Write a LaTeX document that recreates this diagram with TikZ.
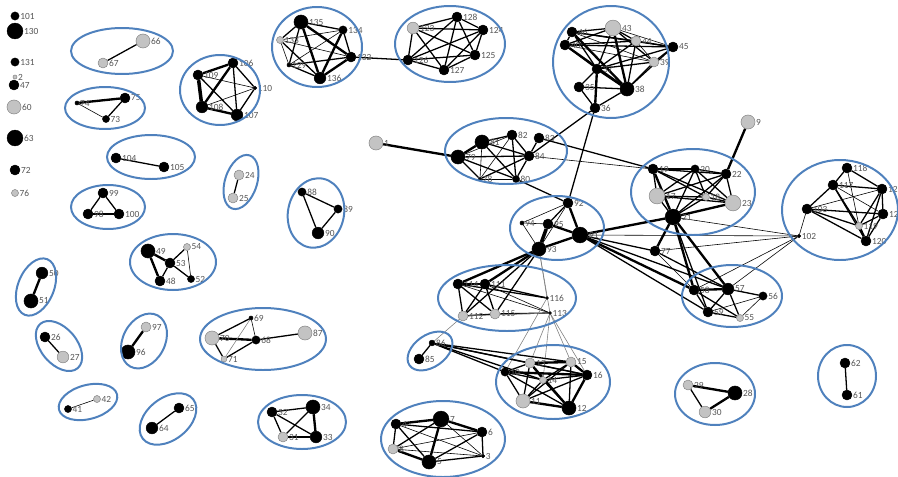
\documentclass[tikz,border=0pt]{standalone}
\usepackage{fontspec}
\setmainfont{Carlito}
\usepackage{tikz}
\usetikzlibrary{backgrounds}
\definecolor{grpblue}{RGB}{79,129,189}
\definecolor{ndgray}{RGB}{195,195,195}
\definecolor{lblgray}{RGB}{85,85,85}

\tikzset{
  vtx/.style={circle, inner sep=0pt, line width=0.4pt},
  lbl/.style={font=\fontsize{8}{9}\selectfont, text=lblgray, inner sep=0.6pt},
  grp/.style={draw=grpblue, line width=1.7pt},
  thn/.style={line width=0.5pt},
  med/.style={line width=1.1pt},
  thk/.style={line width=2pt},
  hvy/.style={line width=3pt},
  faint/.style={line width=0.5pt, gray}
}

\begin{document}
\begin{tikzpicture}[x=0.03cm, y=-0.03cm, line cap=round]
\useasboundingbox (0,0) rectangle (898,476);

\def\blk#1#2#3#4{%
  \node[vtx, fill=black, draw=black, minimum size=#4pt, label={[lbl]right:#1}] (n#1) at (#2,#3) {};
}
\def\gry#1#2#3#4{%
  \node[vtx, fill=ndgray, draw=gray, minimum size=#4pt, label={[lbl]right:#1}] (n#1) at (#2,#3) {};
}

% isolated vertices
\blk{101}{15}{16}{7}
\blk{130}{15}{31}{13.5}
\blk{131}{15}{62}{7}
\gry{2}{15}{77}{3.5}
\blk{47}{14}{85}{8.5}
\gry{60}{14}{107}{12}
\blk{63}{15}{138}{13.5}
\blk{72}{15}{170}{8.5}
\gry{76}{15}{193}{6}

% small components, left part
\gry{66}{143}{41}{12}
\gry{67}{103}{63}{8.5}
\blk{74}{77}{103}{3.5}
\blk{75}{125}{98}{8.5}
\blk{73}{106}{119}{6}
\blk{104}{116}{158}{8.5}
\blk{105}{164}{167}{8.5}
\blk{99}{103}{193}{8.5}
\blk{98}{88}{214}{8.5}
\blk{100}{119}{214}{8.5}
\blk{49}{148}{251}{12}
\blk{53}{170}{263}{8.5}
\gry{54}{187}{247}{6}
\blk{48}{160}{281}{8.5}
\blk{52}{191}{279}{6}
\blk{50}{42}{273}{10}
\blk{51}{31}{301}{12}
\blk{26}{45}{337}{8.5}
\gry{27}{63}{357}{10}
\gry{97}{146}{327}{8.5}
\blk{96}{128}{352}{12}
\blk{41}{68}{409}{6}
\gry{42}{97}{399}{6}
\blk{65}{179}{408}{8.5}
\blk{64}{152}{428}{10}
\gry{24}{239}{175}{8.5}
\gry{25}{233}{198}{8.5}
\blk{88}{302}{192}{7}
\blk{89}{338}{209}{7}
\blk{90}{318}{233}{10}
\blk{69}{251}{318}{3.5}
\gry{70}{212}{338}{12}
\blk{68}{256}{340}{7}
\gry{87}{305}{333}{12}
\gry{71}{224}{359}{5}
\blk{32}{272}{412}{8.5}
\blk{34}{313}{407}{12}
\gry{31}{283}{437}{8.5}
\blk{33}{316}{437}{10}

% top cliques
\blk{106}{233}{63}{8.5}
\blk{109}{198}{75}{8.5}
\blk{110}{255}{88}{3}
\blk{108}{202}{107}{10}
\blk{107}{237}{115}{10}
\blk{135}{301}{22}{12}
\blk{134}{343}{30}{7}
\blk{132}{351}{57}{8.5}
\gry{133}{280}{40}{6}
\blk{129}{289}{65}{3.5}
\blk{136}{320}{78}{10}
\blk{128}{457}{17}{8.5}
\gry{123}{413}{28}{10}
\blk{124}{483}{30}{8.5}
\blk{125}{475}{55}{8.5}
\blk{126}{408}{60}{8.5}
\blk{127}{444}{70}{8.5}

% giant component
\gry{1}{376}{143}{12}
\blk{81}{482}{142}{12}
\blk{82}{512}{135}{8.5}
\blk{83}{539}{138}{8.5}
\blk{79}{458}{157}{12}
\blk{84}{529}{156}{8.5}
\blk{78}{480}{179}{3}
\blk{80}{516}{179}{6}
\blk{46}{572}{32}{8.5}
\gry{43}{613}{28}{13.5}
\gry{44}{636}{41}{8.5}
\blk{45}{673}{47}{8.5}
\blk{40}{565}{45}{8.5}
\gry{39}{654}{62}{8.5}
\blk{37}{597}{69}{8.5}
\blk{35}{579}{87}{8.5}
\blk{38}{627}{89}{12}
\blk{36}{595}{108}{8.5}
\blk{19}{653}{169}{8.5}
\blk{20}{695}{169}{7}
\blk{22}{726}{174}{8.5}
\gry{17}{657}{196}{13.5}
\gry{18}{706}{197}{6}
\gry{23}{733}{203}{13.5}
\blk{21}{673}{217}{13.5}
\gry{9}{748}{122}{12}
\blk{118}{847}{168}{8.5}
\blk{117}{833}{185}{8.5}
\blk{121}{882}{189}{8.5}
\blk{103}{807}{209}{8.5}
\blk{122}{883}{214}{8.5}
\gry{119}{859}{226}{6}
\blk{120}{866}{241}{8.5}
\blk{102}{799}{236}{3}
\blk{92}{568}{203}{8.5}
\blk{94}{522}{223}{3.5}
\blk{95}{548}{224}{8.5}
\blk{91}{580}{235}{13.5}
\blk{93}{539}{249}{12}
\blk{77}{655}{251}{8.5}
\blk{58}{694}{290}{8.5}
\blk{57}{728}{289}{10}
\blk{56}{763}{296}{7}
\blk{59}{708}{312}{8.5}
\gry{55}{740}{318}{6}
\blk{114}{458}{284}{8.5}
\blk{111}{485}{284}{8.5}
\blk{116}{547}{298}{2.5}
\gry{112}{463}{316}{8.5}
\gry{115}{495}{314}{8.5}
\blk{113}{550}{313}{2.5}
\blk{86}{432}{343}{5}
\blk{85}{419}{359}{8.5}
\gry{13}{530}{363}{8.5}
\gry{15}{571}{362}{8.5}
\blk{16}{587}{375}{8.5}
\blk{10}{505}{372}{7}
\gry{14}{543}{380}{6}
\gry{11}{523}{401}{12}
\blk{12}{569}{408}{12}

% lower right and bottom
\gry{29}{688}{385}{8.5}
\blk{28}{735}{393}{12}
\gry{30}{705}{412}{10}
\blk{62}{845}{363}{8.5}
\blk{61}{847}{395}{8.5}
\blk{4}{396}{424}{8.5}
\blk{7}{441}{419}{13.5}
\blk{6}{482}{432}{8.5}
\gry{8}{393}{449}{8.5}
\blk{5}{429}{462}{12}
\blk{3}{483}{456}{3}

\begin{scope}[on background layer]
% edges
\foreach \a/\b in {66/67, 75/73, 104/105, 99/98, 99/100, 98/100, 53/48, 53/54, 53/52,
  26/27, 65/64, 24/25, 88/89, 88/90, 89/90, 70/71, 71/68, 68/87, 70/69,
  32/34, 32/31, 32/33, 34/31, 31/33, 29/30, 62/61, 86/85}
  \draw[med] (n\a) -- (n\b);
\foreach \a/\b in {74/75, 49/53, 49/48, 50/51, 97/96, 70/68, 34/33, 29/28, 28/30}
  \draw[thk] (n\a) -- (n\b);
\foreach \a/\b in {74/73, 54/52, 41/42, 69/68}
  \draw[thn] (n\a) -- (n\b);
\draw[faint] (n69) -- (n71);

% 106 -- 110
\draw[hvy] (n109) -- (n108);
\foreach \a/\b in {109/106, 108/106, 108/107}
  \draw[thk] (n\a) -- (n\b);
\foreach \a/\b in {109/107, 106/110, 107/110, 106/107}
  \draw[med] (n\a) -- (n\b);
\foreach \a/\b in {109/110, 108/110}
  \draw[thn] (n\a) -- (n\b);

% 129 -- 136
\foreach \a/\b in {135/136, 135/132, 134/136, 132/136}
  \draw[thk] (n\a) -- (n\b);
\foreach \a/\b in {135/134, 135/133, 135/129, 134/132, 132/129, 133/136, 129/136, 132/126}
  \draw[med] (n\a) -- (n\b);
\foreach \a/\b in {134/133, 134/129, 132/133, 133/129}
  \draw[thn] (n\a) -- (n\b);

% 123 -- 128
\foreach \a/\b in {128/123, 128/124, 128/125, 128/126, 128/127, 123/124, 123/126, 123/127,
  124/125, 124/126, 124/127, 125/126, 125/127, 126/127, 123/125}
  \draw[med] (n\a) -- (n\b);

% 78 -- 84
\foreach \a/\b in {1/79, 79/81}
  \draw[thk] (n\a) -- (n\b);
\foreach \a/\b in {79/84, 79/78, 79/80, 81/82, 81/84, 81/80, 82/84, 82/80, 83/84, 84/80, 84/78,
  84/36, 80/92, 83/19, 36/92}
  \draw[med] (n\a) -- (n\b);
\foreach \a/\b in {79/82, 81/78, 82/78, 78/80, 84/19}
  \draw[thn] (n\a) -- (n\b);

% 35 -- 46
\foreach \a/\b in {37/38, 43/38, 40/38, 46/38, 37/36}
  \draw[thk] (n\a) -- (n\b);
\foreach \a/\b in {46/43, 46/44, 46/45, 46/40, 46/37, 40/43, 40/44, 40/45, 40/37,
  43/44, 43/37, 43/39, 44/45, 44/37, 44/38, 45/39, 45/37, 45/38, 39/38, 39/37,
  37/35, 35/38, 35/36, 38/36}
  \draw[med] (n\a) -- (n\b);
\foreach \a/\b in {46/39, 40/39, 43/45, 44/39}
  \draw[thn] (n\a) -- (n\b);

% 17 -- 23
\foreach \a/\b in {19/20, 19/21, 21/23, 9/22, 91/21, 21/77, 21/58, 21/57}
  \draw[thk] (n\a) -- (n\b);
\foreach \a/\b in {20/22, 19/22, 19/17, 19/18, 19/23, 20/17, 20/21, 20/18, 22/17, 22/21,
  22/18, 22/23, 17/18, 17/21, 18/21, 18/23, 17/23, 20/23}
  \draw[med] (n\a) -- (n\b);

% 103 -- 122
\draw[thk] (n119) -- (n120);
\foreach \a/\b in {118/117, 118/121, 117/121, 117/103, 103/122, 103/119, 103/120, 117/119,
  117/120, 121/122, 121/119, 121/120, 122/119, 122/120}
  \draw[med] (n\a) -- (n\b);
\foreach \a/\b in {103/121, 117/122, 118/119, 102/103, 102/21, 102/91, 102/77, 102/57, 102/58}
  \draw[thn] (n\a) -- (n\b);

% 91 -- 95
\draw[hvy] (n95) -- (n93);
\foreach \a/\b in {92/91, 95/91, 93/91, 91/58, 93/114, 93/111}
  \draw[thk] (n\a) -- (n\b);
\foreach \a/\b in {92/95, 91/77, 91/57, 91/59, 93/112, 93/115}
  \draw[med] (n\a) -- (n\b);
\foreach \a/\b in {92/94, 94/95, 94/93, 92/93, 77/58}
  \draw[thn] (n\a) -- (n\b);

% 55 -- 59
\draw[thk] (n58) -- (n57);
\foreach \a/\b in {58/59, 58/55, 57/56, 57/59, 57/55, 59/55, 77/57, 21/59}
  \draw[med] (n\a) -- (n\b);
\foreach \a/\b in {56/59, 56/55}
  \draw[thn] (n\a) -- (n\b);

% 111 -- 116
\draw[thk] (n114) -- (n111);
\foreach \a/\b in {114/112, 114/115, 114/116, 111/112, 111/115, 111/116, 112/115, 115/113}
  \draw[med] (n\a) -- (n\b);
\foreach \a/\b in {114/113, 111/113}
  \draw[thn] (n\a) -- (n\b);
\foreach \a/\b in {93/116, 93/113, 112/113, 112/86, 113/13, 113/14, 113/15, 113/16, 116/10}
  \draw[faint] (n\a) -- (n\b);

% 10 -- 16
\foreach \a/\b in {13/15, 10/16, 16/12, 11/12, 15/16, 13/12}
  \draw[thk] (n\a) -- (n\b);
\foreach \a/\b in {10/13, 10/11, 10/12, 10/14, 13/14, 13/11, 13/16, 15/12, 15/14, 15/11,
  14/11, 14/12, 14/16, 11/16, 86/13, 86/10, 86/14, 86/15, 86/16}
  \draw[med] (n\a) -- (n\b);

% 2 -- 8
\foreach \a/\b in {4/7, 7/6, 7/5, 8/5}
  \draw[thk] (n\a) -- (n\b);
\foreach \a/\b in {4/6, 4/8, 4/5, 7/8, 6/5, 6/3, 5/3}
  \draw[med] (n\a) -- (n\b);
\foreach \a/\b in {4/3, 7/3, 6/8, 8/3}
  \draw[thn] (n\a) -- (n\b);
\end{scope}

% groups
\draw[grp] (122,51) ellipse [x radius=51, y radius=23];
\draw[grp] (105,108) ellipse [x radius=40, y radius=21];
\draw[grp] (151,157) ellipse [x radius=44, y radius=22];
\draw[grp] (108,207) ellipse [x radius=37, y radius=22];
\draw[grp] (173,262) ellipse [x radius=43, y radius=28];
\draw[grp, shift={(36,287)}, rotate=68] (0,0) ellipse [x radius=30, y radius=18];
\draw[grp, shift={(59,346)}, rotate=-50] (0,0) ellipse [x radius=29, y radius=18];
\draw[grp, shift={(144,341)}, rotate=62] (0,0) ellipse [x radius=29, y radius=21];
\draw[grp, shift={(88,402)}, rotate=15] (0,0) ellipse [x radius=30, y radius=17];
\draw[grp, shift={(168,419)}, rotate=38] (0,0) ellipse [x radius=32, y radius=21];
\draw[grp, shift={(241,182)}, rotate=72] (0,0) ellipse [x radius=28, y radius=16];
\draw[grp, shift={(316,213)}, rotate=-12] (0,0) ellipse [x radius=28, y radius=35];
\draw[grp] (263,339) ellipse [x radius=63, y radius=31];
\draw[grp] (302,422) ellipse [x radius=44, y radius=27];
\draw[grp] (220,90) ellipse [x radius=40, y radius=35];
\draw[grp] (317,47) ellipse [x radius=45, y radius=40];
\draw[grp] (450,44) ellipse [x radius=55, y radius=38];
\draw[grp] (506,151) ellipse [x radius=61, y radius=33];
\draw[grp] (611,62) ellipse [x radius=58, y radius=56];
\draw[grp] (693,192) ellipse [x radius=62, y radius=43];
\draw[grp] (840,210) ellipse [x radius=58, y radius=50];
\draw[grp] (557,228) ellipse [x radius=47, y radius=32];
\draw[grp] (732,296) ellipse [x radius=50, y radius=31];
\draw[grp] (507,298) ellipse [x radius=69, y radius=33];
\draw[grp, shift={(430,351)}, rotate=35] (0,0) ellipse [x radius=25, y radius=16];
\draw[grp] (553,382) ellipse [x radius=57, y radius=37];
\draw[grp] (715,394) ellipse [x radius=40, y radius=31];
\draw[grp] (847,376) ellipse [x radius=29, y radius=31];
\draw[grp] (443,439) ellipse [x radius=62, y radius=38];
\end{tikzpicture}
\end{document}
